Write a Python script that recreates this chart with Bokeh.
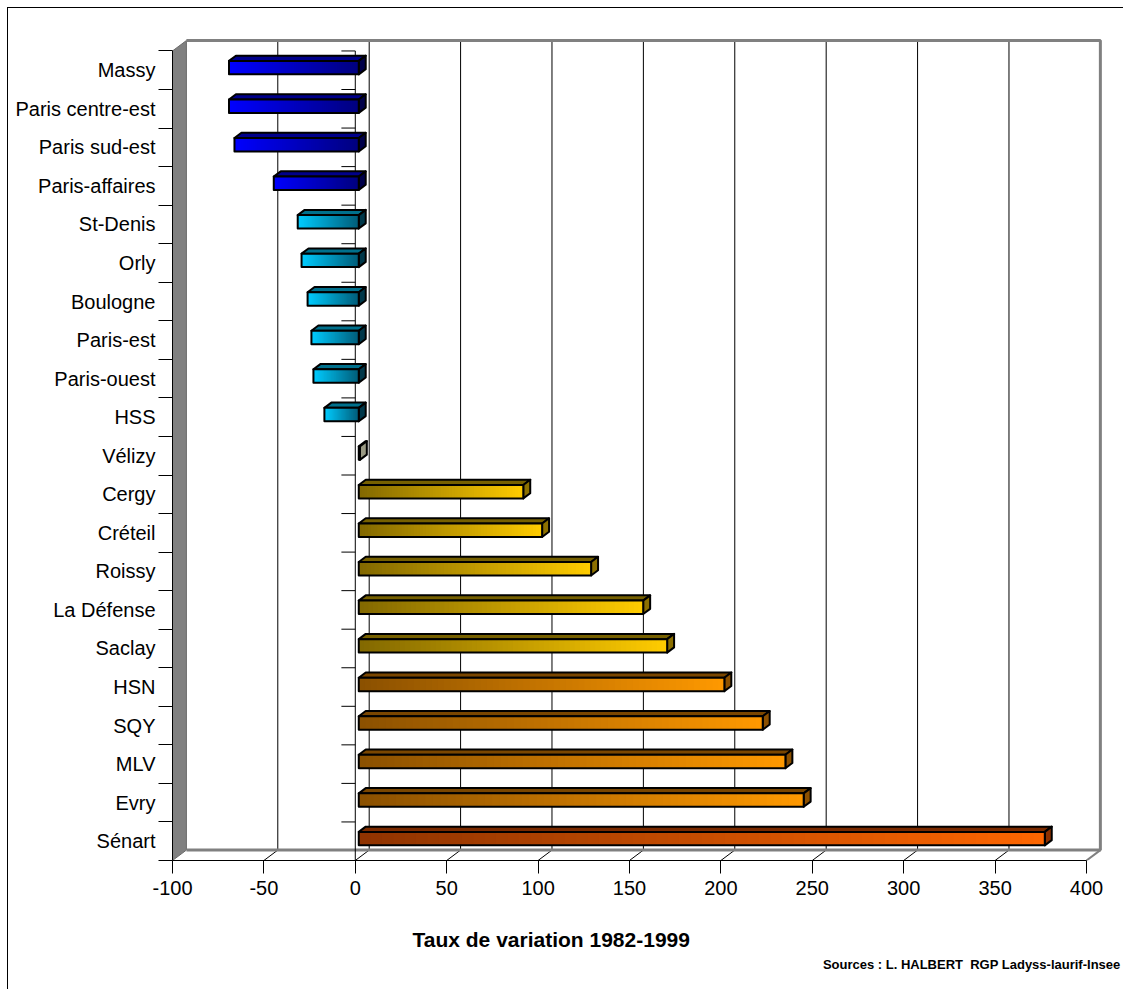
import numpy as np
from bokeh.plotting import figure
from bokeh.models import Range1d, FixedTicker, LinearAxis, Title
from bokeh.embed import file_html
from bokeh.resources import INLINE

# ---------------- data ----------------
categories = ["Massy", "Paris centre-est", "Paris sud-est", "Paris-affaires", "St-Denis", "Orly",
              "Boulogne", "Paris-est", "Paris-ouest", "HSS", "Vélizy", "Cergy", "Créteil", "Roissy",
              "La Défense", "Saclay", "HSN", "SQY", "MLV", "Evry", "Sénart"]
values = [-71.0, -71.0, -68.0, -46.5, -33.4, -31.3, -28.0, -25.9, -24.8, -18.8, 0.6,
          90.0, 100.3, 127.1, 155.6, 168.7, 200.0, 221.0, 233.4, 243.4, 375.3]
groups = ["blue"] * 4 + ["cyan"] * 6 + ["gray"] + ["gold"] * 5 + ["orange"] * 4 + ["red"]
x_ticks = [-100, -50, 0, 50, 100, 150, 200, 250, 300, 350, 400]
x_title = "Taux de variation 1982-1999"
source_note = "Sources : L. HALBERT\u00a0 RGP Ladyss-laurif-Insee"

# near-zero colour, tip colour, top face, side face
group_colors = {
    "blue":   ("#00007E", "#0000FF", "#00008A", "#00004A"),
    "cyan":   ("#005C78", "#00CCFF", "#00708C", "#00384A"),
    "gray":   ("#8C8C78", "#B4B4A0", "#7A7A66", "#9A9A84"),
    "gold":   ("#826800", "#FFCC00", "#766000", "#8C7000"),
    "orange": ("#8A5000", "#FF9900", "#7A4600", "#8C5000"),
    "red":    ("#8F3300", "#FF6600", "#7A2A00", "#8C3000"),
}

FONT = "Liberation Sans"
n = len(categories)
ypos = [n - 1 - i for i in range(n)]

DX, DY = 7.6, 0.27             # depth of the 3-D box (data units)
OX, OY = 0.25 * DX, 0.25 * DY  # bar front offset into depth
BX, BY = 0.5 * DX, 0.5 * DY    # bar depth
H = 0.35                       # bar thickness
X0, X1 = x_ticks[0], x_ticks[-1]
YB, YT = -0.5, n - 0.5

p = figure(width=1116, height=982, x_range=Range1d(X0, 420.8), y_range=Range1d(YB, 21.29),
           output_backend="svg", toolbar_location=None,
           x_axis_location=None, y_axis_location=None,
           min_border_left=164, min_border_right=0, min_border_top=12, min_border_bottom=130,
           background_fill_color="white", border_fill_color="white", outline_line_color=None,
           styles={"margin-left": "7px", "margin-top": "7px",
                   "border-left": "1px solid black", "border-top": "1px solid black"})
p.grid.visible = False

# ---------------- walls ----------------
p.patch([X0, X0, X0 + DX, X0 + DX], [YB, YT, YT + DY, YB + DY],
        fill_color="#808080", line_color="#6A6A6A", line_width=1)

inner = x_ticks[1:-1]
p.segment(x0=[v + DX for v in inner], y0=[YB + DY] * len(inner),
          x1=[v + DX for v in inner], y1=[YT + DY] * len(inner),
          line_color="black", line_width=1)
p.segment(x0=inner, y0=[YB] * len(inner), x1=[v + DX for v in inner], y1=[YB + DY] * len(inner),
          line_color="black", line_width=1)
p.line([X0 + DX, X1 + DX, X1 + DX, X0 + DX], [YT + DY, YT + DY, YB + DY, YB + DY],
       line_color="#808080", line_width=3)
p.segment(x0=[X1 + DX], y0=[YB + DY], x1=[X1], y1=[YB], line_color="#808080", line_width=2)

# category axis at zero
bounds = [b - 0.5 for b in range(n + 1)]
p.segment(x0=[0], y0=[YB], x1=[0], y1=[YT], line_color="black", line_width=1)
p.segment(x0=[-DX] * len(bounds), y0=bounds, x1=[0] * len(bounds), y1=bounds,
          line_color="black", line_width=1)

# ---------------- bars ----------------
NS = 60
sl, sr, st, sb, sc = [], [], [], [], []
fx0, fx1, fyt, fyb = [], [], [], []
top_xs, top_ys, top_c = [], [], []
side_xs, side_ys, side_c = [], [], []


def mix(c1, c2, t):
    a = [int(c1[i:i + 2], 16) for i in (1, 3, 5)]
    b = [int(c2[i:i + 2], 16) for i in (1, 3, 5)]
    return "#%02x%02x%02x" % tuple(int(round(a[k] + (b[k] - a[k]) * t)) for k in range(3))


for y, v, g in zip(ypos, values, groups):
    c0, c1, ctop, cside = group_colors[g]
    lo, hi = min(0, v) + OX, max(0, v) + OX
    yc = y + OY
    ybot, ytop = yc - H / 2, yc + H / 2
    edges = np.linspace(lo, hi, NS + 1)
    for k in range(NS):
        mid = (edges[k] + edges[k + 1]) / 2
        t = abs(mid - OX) / max(abs(v), 1e-9)
        # each strip runs to the bar end; later strips cover the rest -> no seams
        sl.append(edges[k])
        sr.append(hi)
        st.append(ytop)
        sb.append(ybot)
        sc.append(mix(c0, c1, min(max(t, 0), 1)))
    fx0.append(lo); fx1.append(hi); fyt.append(ytop); fyb.append(ybot)
    top_xs.append([lo, hi, hi + BX, lo + BX])
    top_ys.append([ytop, ytop, ytop + BY, ytop + BY])
    top_c.append(ctop)
    side_xs.append([hi, hi, hi + BX, hi + BX])
    side_ys.append([ybot, ytop, ytop + BY, ybot + BY])
    side_c.append(cside)

p.patches(top_xs, top_ys, fill_color=top_c, line_color="black", line_width=2, line_join="round")
p.patches(side_xs, side_ys, fill_color=side_c, line_color="black", line_width=2, line_join="round")
p.quad(left=sl, right=sr, top=st, bottom=sb, fill_color=sc, line_color=None)
p.quad(left=fx0, right=fx1, top=fyt, bottom=fyb, fill_color=None, line_color="black",
       line_width=2, line_join="round")

# ---------------- axes ----------------
xaxis = LinearAxis(ticker=FixedTicker(ticks=x_ticks), bounds=(X0, X1),
                   major_tick_out=13, major_tick_in=0, minor_tick_out=0, minor_tick_in=0,
                   major_label_standoff=7, major_label_text_font=FONT,
                   major_label_text_font_size="20px", major_label_text_color="black",
                   major_label_overrides={v: str(v) for v in x_ticks},
                   axis_line_color="black", major_tick_line_color="black")
p.add_layout(xaxis, "below")

yaxis = LinearAxis(ticker=FixedTicker(ticks=ypos, minor_ticks=bounds), bounds=(YB, YT),
                   major_tick_out=0, major_tick_in=0, minor_tick_out=14, minor_tick_in=0,
                   major_label_overrides={y: c for y, c in zip(ypos, categories)},
                   major_label_standoff=3, major_label_text_font=FONT,
                   major_label_text_font_size="20px", major_label_text_color="black",
                   axis_line_color="black", minor_tick_line_color="black")
p.add_layout(yaxis, "left")

p.add_layout(Title(text=x_title, align="left", offset=240, standoff=56, text_font=FONT,
                   text_font_size="21px", text_font_style="bold", text_color="black"), "below")
p.add_layout(Title(text=source_note, align="right", offset=4, standoff=-44, vertical_align="top",
                   text_font=FONT, text_font_size="13px", text_font_style="bold",
                   text_color="black"), "below")

open("out.html", "w").write(file_html(p, INLINE))
